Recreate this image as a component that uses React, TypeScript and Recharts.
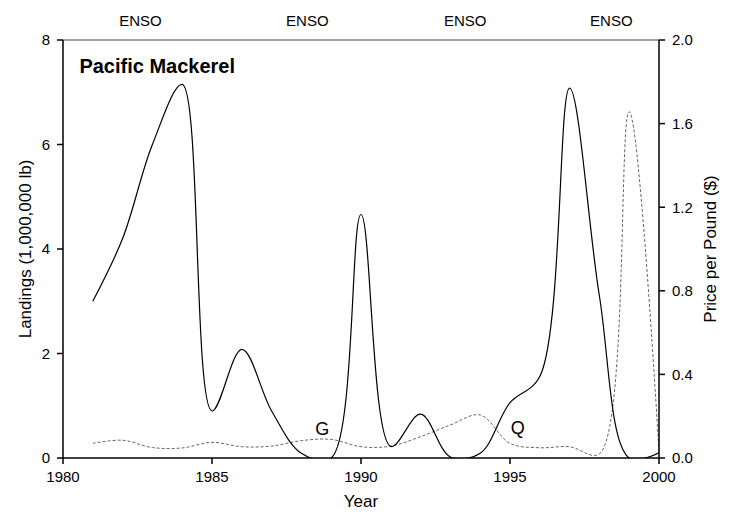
import React from 'react';
import { LineChart, Line, XAxis, YAxis, ReferenceLine, ReferenceDot } from 'recharts';

const years = [1981, 1982, 1983, 1984, 1985, 1986, 1987, 1988, 1989, 1990, 1991, 1992, 1993, 1994, 1995, 1996, 1997, 1998, 1999, 2000];
// landings, millions of lb
const landings = [3.0, 4.2, 6.0, 7.15, 0.9, 2.08, 0.9, 0.09, 0.0, 4.66, 0.22, 0.84, 0.02, 0.09, 1.06, 1.56, 7.08, 3.1, 0.0, 0.1];
// price per pound, $
const price = [0.07, 0.085, 0.05, 0.048, 0.075, 0.054, 0.057, 0.083, 0.089, 0.054, 0.057, 0.102, 0.158, 0.206, 0.07, 0.049, 0.054, 0.02, 1.657, 0.03];

const xTicks = [1980, 1985, 1990, 1995, 2000];
const leftTicks = [0, 2, 4, 6, 8];
const rightTicks = [0, 0.4, 0.8, 1.2, 1.6, 2.0];
const ensoYears = [1982.6, 1988.2, 1993.5, 1998.4];
const notes = [
  { year: 1988.7, value: 0.57, text: 'G' },
  { year: 1995.26, value: 0.58, text: 'Q' },
];

const data = years.map((year, i) => ({ year, landings: landings[i], price: price[i] }));

// centripetal catmull-rom, same as d3's curveCatmullRom (alpha 0.5)
function catmullRom(context: any) {
  const alpha = 0.5;
  const s: any = {};
  const seg = (x: number, y: number) => {
    let x1 = s.x1, y1 = s.y1, x2 = s.x2, y2 = s.y2;
    if (s.l01a > 1e-12) {
      const a = 2 * s.l012a + 3 * s.l01a * s.l12a + s.l122a;
      const n = 3 * s.l01a * (s.l01a + s.l12a);
      x1 = (x1 * a - s.x0 * s.l122a + s.x2 * s.l012a) / n;
      y1 = (y1 * a - s.y0 * s.l122a + s.y2 * s.l012a) / n;
    }
    if (s.l23a > 1e-12) {
      const b = 2 * s.l232a + 3 * s.l23a * s.l12a + s.l122a;
      const m = 3 * s.l23a * (s.l23a + s.l12a);
      x2 = (x2 * b + s.x1 * s.l232a - x * s.l122a) / m;
      y2 = (y2 * b + s.y1 * s.l232a - y * s.l122a) / m;
    }
    context.bezierCurveTo(x1, y1, x2, y2, s.x2, s.y2);
  };
  return {
    areaStart() {},
    areaEnd() {},
    lineStart() {
      s.x0 = s.x1 = s.x2 = s.y0 = s.y1 = s.y2 = NaN;
      s.l01a = s.l12a = s.l23a = s.l012a = s.l122a = s.l232a = 0;
      s.point = 0;
    },
    lineEnd() {
      if (s.point === 2) context.lineTo(s.x2, s.y2);
      else if (s.point === 3) this.point(s.x2, s.y2);
    },
    point(xIn: number, yIn: number) {
      const x = +xIn, y = +yIn;
      if (s.point) {
        const dx = s.x2 - x, dy = s.y2 - y;
        s.l232a = Math.pow(dx * dx + dy * dy, alpha);
        s.l23a = Math.sqrt(s.l232a);
      }
      if (s.point === 0) {
        s.point = 1;
        context.moveTo(x, y);
      } else if (s.point === 1) {
        s.point = 2;
      } else {
        s.point = 3;
        seg(x, y);
      }
      s.l01a = s.l12a; s.l12a = s.l23a;
      s.l012a = s.l122a; s.l122a = s.l232a;
      s.x0 = s.x1; s.x1 = s.x2; s.x2 = x;
      s.y0 = s.y1; s.y1 = s.y2; s.y2 = y;
    },
  };
}

const tickStyle = { fill: '#000', fontSize: 15 };

export default function App() {
  return (
    <div style={{ position: 'absolute', left: 0, top: 0, fontFamily: '"Liberation Sans", Arial, sans-serif' }}>
      <LineChart width={732} height={512} data={data} margin={{ top: 40, right: 0, bottom: 0, left: 0 }}>
        <XAxis
          dataKey="year"
          type="number"
          domain={[1980, 2000]}
          ticks={xTicks}
          allowDataOverflow
          height={54}
          tick={tickStyle}
          tickSize={6}
          tickMargin={7}
          stroke="#000"
          strokeWidth={1.5}
          label={{ value: 'Year', position: 'insideBottom', offset: 5, fill: '#000', fontSize: 17 }}
        />
        <YAxis
          yAxisId="left"
          domain={[0, 8]}
          ticks={leftTicks}
          allowDataOverflow
          width={63}
          tick={tickStyle}
          tickSize={6}
          tickMargin={7}
          stroke="#000"
          strokeWidth={1.5}
          label={{ value: 'Landings (1,000,000 lb)', angle: -90, position: 'center', dx: -6.5, fill: '#000', fontSize: 17 }}
        />
        <YAxis
          yAxisId="right"
          orientation="right"
          domain={[0, 2]}
          ticks={rightTicks}
          allowDataOverflow
          width={73}
          tick={tickStyle}
          tickSize={6}
          tickMargin={7}
          tickFormatter={(v: number) => v.toFixed(1)}
          stroke="#000"
          strokeWidth={1.5}
          label={{ value: 'Price per Pound ($)', angle: -90, position: 'center', dx: 14.5, fill: '#000', fontSize: 17 }}
        />
        <ReferenceLine yAxisId="left" y={8} stroke="#444" strokeWidth={1} />
        {ensoYears.map((x) => (
          <ReferenceLine
            key={x}
            yAxisId="left"
            x={x}
            stroke="none"
            label={{ value: 'ENSO', position: 'top', offset: 14, fill: '#000', fontSize: 15 }}
          />
        ))}
        <ReferenceDot
          yAxisId="left"
          x={1980.55}
          y={7.51}
          r={0}
          fill="none"
          stroke="none"
          label={{ value: 'Pacific Mackerel', position: 'right', offset: 0, fill: '#000', fontSize: 20, fontWeight: 'bold' }}
        />
        {notes.map((n) => (
          <ReferenceDot
            key={n.text}
            yAxisId="left"
            x={n.year}
            y={n.value}
            r={0}
            fill="none"
            stroke="none"
            label={{ value: n.text, position: 'center', fill: '#000', fontSize: 18 }}
          />
        ))}
        <Line
          yAxisId="right"
          type={catmullRom as any}
          dataKey="price"
          stroke="#666"
          strokeWidth={1}
          strokeDasharray="3 2"
          dot={false}
          isAnimationActive={false}
        />
        <Line
          yAxisId="left"
          type={catmullRom as any}
          dataKey="landings"
          stroke="#000"
          strokeWidth={1.2}
          dot={false}
          isAnimationActive={false}
        />
      </LineChart>
    </div>
  );
}
